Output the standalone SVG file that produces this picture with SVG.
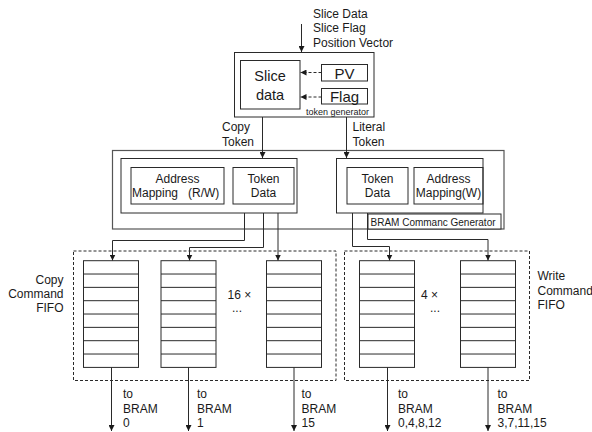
<svg xmlns="http://www.w3.org/2000/svg" width="592" height="432" viewBox="0 0 592 432">
<style>
.b{fill:none;stroke:#2a2a2a;stroke-width:1}
.bw{fill:#fff;stroke:#2a2a2a;stroke-width:1}
.g{fill:none;stroke:#555;stroke-width:1.2}
.d{fill:none;stroke:#2a2a2a;stroke-width:1;stroke-dasharray:3,2}
.c{fill:none;stroke:#2a2a2a;stroke-width:1}
.t{font-family:"Liberation Sans",Arial,sans-serif;font-size:12px;fill:#1a1a1a}
.m{text-anchor:middle}
.e{text-anchor:end}
</style>
<defs>
<marker id="ah" markerUnits="userSpaceOnUse" markerWidth="6" markerHeight="6" refX="6" refY="3" orient="auto">
<path d="M0,0 L6,3 L0,6 z" fill="#1a1a1a"/>
</marker>
<g id="fifo">
<rect class="b" x="0" y="0" width="55" height="106.7"/>
<path class="b" d="M0,13.33H55M0,26.67H55M0,40H55M0,53.33H55M0,66.67H55M0,80H55M0,93.33H55"/>
</g>
</defs>
<rect width="592" height="432" fill="#fff"/>

<g id="input-label" class="t">
<text x="313" y="17.5">Slice Data</text>
<text x="313" y="32">Slice Flag</text>
<text x="313" y="47">Position Vector</text>
</g>

<g id="token-generator">
<rect class="b" x="234.5" y="52.5" width="139.5" height="64.5"/>
<rect class="b" x="240.5" y="60.5" width="59.5" height="48.5"/>
<text class="t m" x="270" y="81" style="font-size:14.5px">Slice</text>
<text class="t m" x="270" y="100" style="font-size:14.5px">data</text>
<rect class="b" x="321.5" y="64.5" width="46" height="16.5"/>
<text class="t m" x="344.5" y="78.5" style="font-size:15px">PV</text>
<rect class="b" x="321.5" y="88.5" width="46" height="15.5"/>
<text class="t m" x="344.5" y="101.5" style="font-size:15px">Flag</text>
<text class="t" x="306" y="114.5" style="font-size:9px">token generator</text>
</g>

<g id="bram-command-generator">
<rect class="g" x="112.5" y="150.5" width="391.5" height="78.5"/>
<rect class="b" x="121" y="158.5" width="176" height="54.5"/>
<rect class="b" x="131" y="167.5" width="93" height="36.5"/>
<text class="t" x="177.5" y="183" text-anchor="middle">Address</text>
<text class="t" x="132" y="197">Mapping</text>
<text class="t" x="188" y="197">(R/W)</text>
<rect class="b" x="233" y="167.5" width="61" height="36.5"/>
<text class="t m" x="263.5" y="183">Token</text>
<text class="t m" x="263.5" y="197">Data</text>
<rect class="b" x="336.5" y="158.5" width="146.5" height="54.5"/>
<rect class="b" x="347" y="167.5" width="61" height="36.5"/>
<text class="t m" x="377.5" y="183">Token</text>
<text class="t m" x="377.5" y="197">Data</text>
<rect class="b" x="414" y="167.5" width="69" height="36.5"/>
<text class="t m" x="448.5" y="183">Address</text>
<text class="t m" x="448.5" y="197">Mapping(W)</text>
<rect class="bw" x="368" y="214" width="133" height="15"/>
<text class="t" x="370.5" y="225.5" style="font-size:10px">BRAM Commanc Generator</text>
</g>

<g id="copy-command-fifo">
<rect class="d" x="73.5" y="251" width="262.5" height="129.5"/>
<use href="#fifo" x="83.5" y="260.7"/>
<use href="#fifo" x="161" y="260.7"/>
<use href="#fifo" x="266.5" y="260.7"/>
<text class="t e" x="63.5" y="283.5">Copy</text>
<text class="t e" x="63.5" y="297.5">Command</text>
<text class="t e" x="63.5" y="311.5">FIFO</text>
<text class="t" x="227.5" y="298.5">16 ×</text>
<text class="t" x="232" y="312">...</text>
</g>

<g id="write-command-fifo">
<rect class="d" x="344.5" y="251" width="185" height="129.5"/>
<use href="#fifo" x="359.5" y="260.7"/>
<use href="#fifo" x="460.5" y="260.7"/>
<text class="t" x="537.5" y="279.5">Write</text>
<text class="t" x="537.5" y="294.5">Command</text>
<text class="t" x="537.5" y="309">FIFO</text>
<text class="t" x="421" y="298.5">4 ×</text>
<text class="t" x="430" y="312">...</text>
</g>

<g id="output-labels" class="t">
<text x="123" y="397.5">to</text><text x="123" y="412.5">BRAM</text><text x="123" y="427">0</text>
<text x="197" y="397.5">to</text><text x="197" y="412.5">BRAM</text><text x="197" y="427">1</text>
<text x="301.5" y="397.5">to</text><text x="301.5" y="412.5">BRAM</text><text x="301.5" y="427">15</text>
<text x="398" y="397.5">to</text><text x="398" y="412.5">BRAM</text><text x="398" y="427">0,4,8,12</text>
<text x="497.5" y="397.5">to</text><text x="497.5" y="412.5">BRAM</text><text x="497.5" y="427">3,7,11,15</text>
</g>

<g id="token-labels" class="t">
<text x="222" y="131">Copy</text>
<text x="222" y="146">Token</text>
<text x="352.5" y="131">Literal</text>
<text x="352.5" y="146">Token</text>
</g>

<g id="connectors">
<path class="c" d="M301.5,24V52" marker-end="url(#ah)"/>
<path class="d" d="M321.5,72.5H300.5" marker-end="url(#ah)"/>
<path class="d" d="M321.5,97H300.5" marker-end="url(#ah)"/>
<path class="c" d="M262.5,117V158" marker-end="url(#ah)"/>
<path class="c" d="M346.5,117V158" marker-end="url(#ah)"/>
<path class="c" d="M244.5,213V240.5H112.5V260.5" marker-end="url(#ah)"/>
<path class="c" d="M263.5,213V247.5H189.5V260.5" marker-end="url(#ah)"/>
<path class="c" d="M278,213V260.5" marker-end="url(#ah)"/>
<path class="c" d="M352.5,213V246.5H389.5V260.5" marker-end="url(#ah)"/>
<path class="c" d="M367.5,213V239.5H488V260.5" marker-end="url(#ah)"/>
<path class="c" d="M111.5,367.4V431" marker-end="url(#ah)"/>
<path class="c" d="M188.5,367.4V431" marker-end="url(#ah)"/>
<path class="c" d="M294,367.4V431" marker-end="url(#ah)"/>
<path class="c" d="M387.5,367.4V431" marker-end="url(#ah)"/>
<path class="c" d="M488,367.4V431" marker-end="url(#ah)"/>
</g>
</svg>
